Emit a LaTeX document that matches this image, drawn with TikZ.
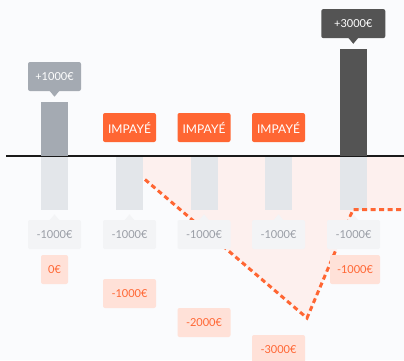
\documentclass[tikz,border=0pt]{standalone}
\usepackage{fontspec}
\setmainfont{Lato}
\usetikzlibrary{backgrounds}
\definecolor{bgcol}{HTML}{FAFBFD}
\definecolor{axiscol}{HTML}{1A1A1A}
\definecolor{barlight}{HTML}{E3E6EA}
\definecolor{bargray}{HTML}{A4AAB2}
\definecolor{bardark}{HTML}{545454}
\definecolor{impaye}{HTML}{FF6633}
\definecolor{pinkarea}{HTML}{FDF0EE}
\definecolor{tagfill}{HTML}{F3F4F6}
\definecolor{tagtext}{HTML}{9A9EA6}
\definecolor{peach}{HTML}{FFE1D8}

\begin{document}
\begin{tikzpicture}[x=1pt,y=-1pt,background rectangle/.style={fill=bgcol}, show background rectangle, inner frame sep=0pt,
	tag/.style={rounded corners=2pt,inner sep=0pt,minimum height=29pt,minimum width=53pt,font=\fontsize{11}{13}\selectfont}]
	\useasboundingbox (0,0) rectangle (404,360);
	\fill[color=pinkarea] (143,156) -- (404,156) -- (404,210) -- (354,210) -- (307,318) -- (143,178) -- cycle;
	\fill[color=barlight] (41,156) rectangle (68,210);
	\fill[color=barlight] (116,156) rectangle (143,210);
	\fill[color=barlight] (191,156) rectangle (218,210);
	\fill[color=barlight] (265,156) rectangle (292,210);
	\fill[color=barlight] (340,156) rectangle (367,210);
	\draw[color=impaye,line width=3pt,dash pattern=on 5pt off 3.5pt] (145,179.5) -- (307,318) -- (353,209.7) -- (404,209.7);
	\draw[color=axiscol,line width=2pt] (6,156) -- (404,156);
	\fill[color=bargray] (41,102) rectangle (68,156);
	\fill[color=bardark] (340,49) rectangle (367,156);
	\node[tag,fill=bargray,text=white] (plus1) at (54.5,76.5) {+1000€};
	\fill[color=bargray] ([xshift=-5pt,yshift=0.5pt]plus1.south) -- ([xshift=5pt,yshift=0.5pt]plus1.south) -- ([yshift=-5.5pt]plus1.south) -- cycle;
	\node[tag,fill=bardark,text=white,minimum width=64pt] (plus3) at (353.3,23.6) {+3000€};
	\fill[color=bardark] ([xshift=-5pt,yshift=0.5pt]plus3.south) -- ([xshift=5pt,yshift=0.5pt]plus3.south) -- ([yshift=-5.5pt]plus3.south) -- cycle;
	\node[tag,fill=impaye,text=white,font=\fontsize{12}{14}\selectfont] (imp2) at (129.5,127.5) {IMPAYÉ};
	\node[tag,fill=impaye,text=white,font=\fontsize{12}{14}\selectfont] (imp3) at (204,127.5) {IMPAYÉ};
	\node[tag,fill=impaye,text=white,font=\fontsize{12}{14}\selectfont] (imp4) at (278.5,127.5) {IMPAYÉ};
	\node[tag,fill=tagfill,text=tagtext] (neg1) at (54.5,234.5) {-1000€};
	\node[tag,fill=tagfill,text=tagtext] (neg2) at (129.5,234.5) {-1000€};
	\node[tag,fill=tagfill,text=tagtext] (neg3) at (204,234.5) {-1000€};
	\node[tag,fill=tagfill,text=tagtext] (neg4) at (278.5,234.5) {-1000€};
	\node[tag,fill=tagfill,text=tagtext] (neg5) at (353.5,234.5) {-1000€};
	\fill[color=tagfill] ([xshift=-5pt,yshift=-0.5pt]neg1.north) -- ([xshift=5pt,yshift=-0.5pt]neg1.north) -- ([yshift=5.5pt]neg1.north) -- cycle;
	\fill[color=tagfill] ([xshift=-5pt,yshift=-0.5pt]neg2.north) -- ([xshift=5pt,yshift=-0.5pt]neg2.north) -- ([yshift=5.5pt]neg2.north) -- cycle;
	\fill[color=tagfill] ([xshift=-5pt,yshift=-0.5pt]neg3.north) -- ([xshift=5pt,yshift=-0.5pt]neg3.north) -- ([yshift=5.5pt]neg3.north) -- cycle;
	\fill[color=tagfill] ([xshift=-5pt,yshift=-0.5pt]neg4.north) -- ([xshift=5pt,yshift=-0.5pt]neg4.north) -- ([yshift=5.5pt]neg4.north) -- cycle;
	\fill[color=tagfill] ([xshift=-5pt,yshift=-0.5pt]neg5.north) -- ([xshift=5pt,yshift=-0.5pt]neg5.north) -- ([yshift=5.5pt]neg5.north) -- cycle;
	\node[tag,fill=peach,text=impaye,minimum width=27pt] (bal1) at (54.5,269.5) {0€};
	\node[tag,fill=peach,text=impaye] (bal2) at (129.5,293.5) {-1000€};
	\node[tag,fill=peach,text=impaye] (bal3) at (204,322.5) {-2000€};
	\node[tag,fill=peach,text=impaye] (bal4) at (278.5,349.5) {-3000€};
	\node[tag,fill=peach,text=impaye,minimum width=50pt] (bal5) at (355,269.5) {-1000€};
\end{tikzpicture}
\end{document}
